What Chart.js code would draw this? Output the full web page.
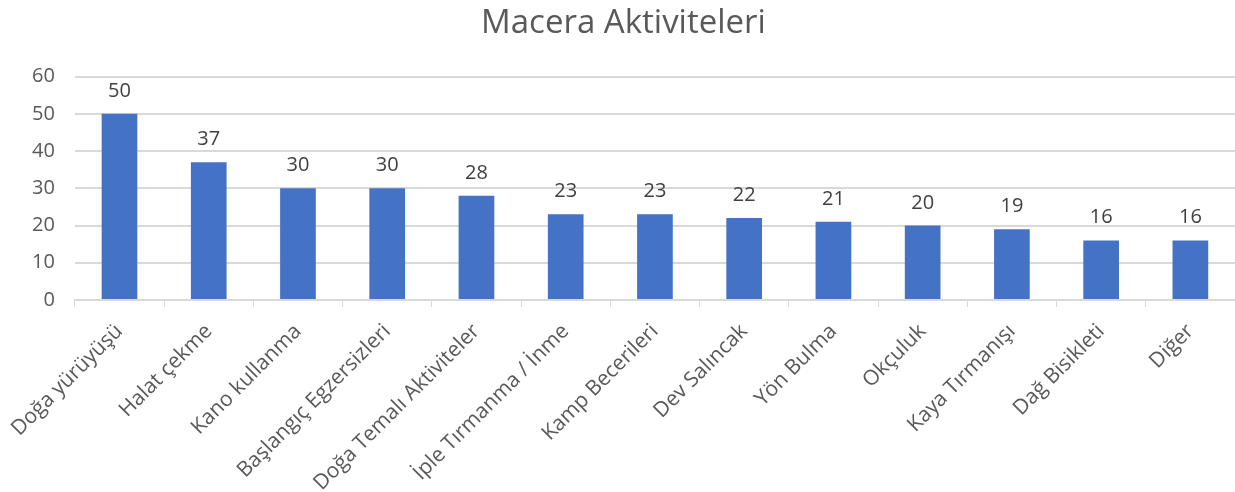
<!DOCTYPE html>
<html>
<head>
<meta charset="utf-8">
<script src="https://cdn.jsdelivr.net/npm/chart.js@4/dist/chart.umd.min.js"></script>
<style>
  html, body { margin: 0; padding: 0; background: #fff; }
  #wrap { width: 1235px; height: 492px; }
</style>
</head>
<body>
<div id="wrap"><canvas id="chart"></canvas></div>
<script>
const categories = ['Doğa yürüyüşü', 'Halat çekme', 'Kano kullanma', 'Başlangıç Egzersizleri',
    'Doğa Temalı Aktiviteler', 'İple Tırmanma / İnme', 'Kamp Becerileri', 'Dev Salıncak',
    'Yön Bulma', 'Okçuluk', 'Kaya Tırmanışı', 'Dağ Bisikleti', 'Diğer'];
const counts = [50, 37, 30, 30, 28, 23, 23, 22, 21, 20, 19, 16, 16];
const yTicks = [0, 10, 20, 30, 40, 50, 60];

// draws the value above each bar
const barValues = {
    id: 'barValues',
    afterDatasetsDraw(chart) {
        const ctx = chart.ctx;
        const meta = chart.getDatasetMeta(0);
        ctx.save();
        ctx.font = '20px "Open Sans"';
        ctx.fillStyle = '#404040';
        ctx.textAlign = 'center';
        ctx.textBaseline = 'alphabetic';
        meta.data.forEach((bar, i) => {
            ctx.fillText(counts[i], bar.x, bar.y - 17);
        });
        ctx.restore();
    }
};

Chart.defaults.font.family = '"Open Sans"';
Chart.defaults.color = '#595959';

new Chart(document.getElementById('chart'), {
    type: 'bar',
    data: {
        labels: categories,
        datasets: [{
            data: counts,
            backgroundColor: '#4472C4',
            barPercentage: 0.4,
            categoryPercentage: 1
        }]
    },
    options: {
        responsive: true,
        maintainAspectRatio: false,
        animation: false,
        layout: { padding: { left: 12, right: 0, top: 0, bottom: 0 } },
        plugins: {
            legend: { display: false },
            tooltip: { enabled: false },
            title: {
                display: true,
                text: 'Macera Aktiviteleri',
                color: '#595959',
                font: { size: 33, weight: 'normal' },
                padding: { top: 4, bottom: 33 }
            }
        },
        scales: {
            x: {
                grid: { offset: true, drawOnChartArea: false, drawTicks: true, tickLength: 7, color: '#d9d9d9' },
                border: { color: '#d9d9d9', width: 2 },
                ticks: { font: { size: 21 }, minRotation: 45, maxRotation: 45, padding: 12 },
                afterFit(axis) { axis.height = 192; }
            },
            y: {
                min: 0,
                max: 60,
                afterBuildTicks(axis) { axis.ticks = yTicks.map(v => ({ value: v })); },
                grid: { color: '#d9d9d9', lineWidth: 2, drawTicks: false },
                border: { display: false },
                ticks: { font: { size: 20 }, padding: 20 }
            }
        }
    },
    plugins: [barValues]
});
</script>
</body>
</html>
